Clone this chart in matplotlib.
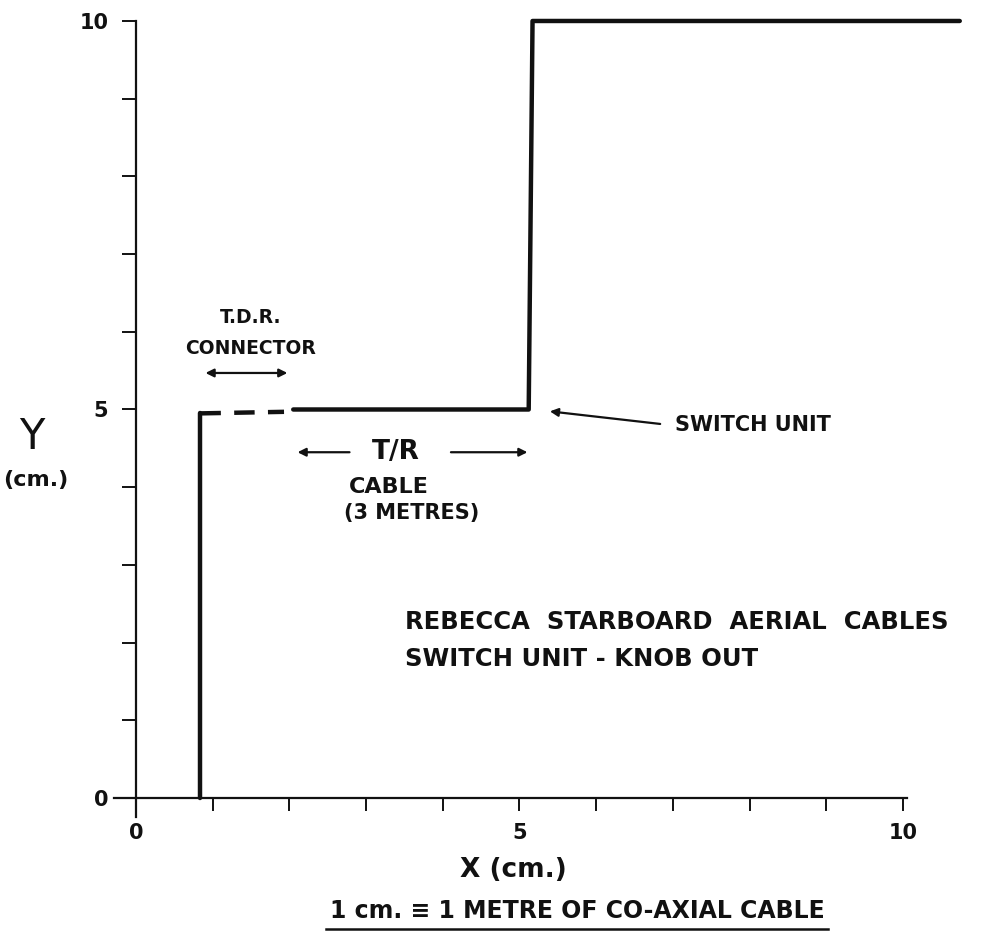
import matplotlib
matplotlib.use("Agg")
import matplotlib.pyplot as plt
from matplotlib.lines import Line2D

plt.rcParams['font.family'] = ['DejaVu Sans']

# step trace (cm)
rise_x = [0.84, 0.84]
rise_y = [0.0, 4.95]
connector_x = [0.84, 1.93]
connector_y = [4.95, 4.97]
cable_x = [2.05, 5.12, 5.17, 10.74]
cable_y = [5.0, 5.0, 10.0, 10.0]

# axes ticks
major_ticks = [0, 5, 10]
minor_ticks = [1, 2, 3, 4, 6, 7, 8, 9]
tick_labels = ['0', '5', '10']

# dimension arrows (x start, x end, y)
tdr_arrow = (0.87, 2.01, 5.47)
tr_left = (2.82, 2.07, 4.45)
tr_right = (4.07, 5.14, 4.45)
switch_from = (6.87, 4.81)
switch_to = (5.36, 4.98)

fig = plt.figure(figsize=(9.85, 9.35), dpi=100)
ax = fig.add_axes([0, 0, 1, 1])
ax.set_xlim(-1.773, 11.069)
ax.set_ylim(-1.763, 10.270)

ink = '#111111'
ax.plot(rise_x, rise_y, color=ink, lw=3.2, solid_joinstyle='round', solid_capstyle='round')
ax.plot(connector_x, connector_y, color=ink, lw=3.2, dashes=(4.6, 3.0), dash_capstyle='butt')
ax.plot(cable_x, cable_y, color=ink, lw=3.2, solid_joinstyle='round', solid_capstyle='round')

# axes look
for s in ['top', 'right']:
    ax.spines[s].set_visible(False)
ax.spines['left'].set_position(('data', 0))
ax.spines['bottom'].set_position(('data', 0))
ax.spines['left'].set_bounds(-0.25, 10)
ax.spines['bottom'].set_bounds(-0.29, 10.05)
for s in ['left', 'bottom']:
    ax.spines[s].set_linewidth(1.6)
    ax.spines[s].set_color(ink)

ax.set_xticks(major_ticks, labels=tick_labels)
ax.set_yticks(major_ticks, labels=tick_labels)
ax.set_xticks(minor_ticks, minor=True)
ax.set_yticks(minor_ticks, minor=True)
ax.tick_params(axis='x', which='both', direction='out', length=9, width=1.4, color=ink, pad=9)
ax.tick_params(axis='y', which='both', direction='out', length=10, width=1.4, color=ink, pad=10)
for lab in ax.get_xticklabels() + ax.get_yticklabels():
    lab.set_fontsize(15)
    lab.set_fontweight('bold')
    lab.set_color(ink)

# axis titles
ax.text(-1.356, 4.646, 'Y', fontsize=30, ha='center', va='center', color=ink)
ax.text(-1.304, 4.093, '(cm.)', fontsize=16, fontweight='bold', ha='center', va='center', color=ink)
ax.text(4.92, -0.927, 'X (cm.)', fontsize=19, fontweight='bold', ha='center', va='center', color=ink)

# annotations
ax.text(1.50, 6.18, 'T.D.R.', fontsize=13.5, fontweight='bold', ha='center', va='center', color=ink)
ax.text(1.50, 5.79, 'CONNECTOR', fontsize=13.5, fontweight='bold', ha='center', va='center', color=ink)
ax.annotate('', xy=(tdr_arrow[1], tdr_arrow[2]), xytext=(tdr_arrow[0], tdr_arrow[2]),
            arrowprops=dict(arrowstyle='<|-|>', color=ink, lw=1.6, mutation_scale=12))

ax.text(3.39, 4.45, 'T/R', fontsize=19, fontweight='bold', ha='center', va='center', color=ink)
for x0, x1, yy in [tr_left, tr_right]:
    ax.annotate('', xy=(x1, yy), xytext=(x0, yy),
                arrowprops=dict(arrowstyle='-|>', color=ink, lw=1.6, mutation_scale=12))
ax.text(3.29, 4.00, 'CABLE', fontsize=16, fontweight='bold', ha='center', va='center', color=ink)
ax.text(3.60, 3.67, '(3 METRES)', fontsize=15, fontweight='bold', ha='center', va='center', color=ink)

ax.text(7.03, 4.80, 'SWITCH UNIT', fontsize=15, fontweight='bold', ha='left', va='center', color=ink)
ax.annotate('', xy=switch_to, xytext=switch_from,
            arrowprops=dict(arrowstyle='-|>', color=ink, lw=1.6, mutation_scale=12))

ax.text(3.51, 2.27, 'REBECCA  STARBOARD  AERIAL  CABLES', fontsize=17.5, fontweight='bold',
        ha='left', va='center', color=ink)
ax.text(3.51, 1.79, 'SWITCH UNIT - KNOB OUT', fontsize=17.5, fontweight='bold',
        ha='left', va='center', color=ink)

note = ax.text(5.75, -1.454, '1 cm. \u2261 1 METRE OF CO-AXIAL CABLE', fontsize=17, fontweight='bold',
               ha='center', va='center', color=ink)

# underline the scale note from its rendered extent
fig.canvas.draw()
bb = note.get_window_extent().transformed(fig.transFigure.inverted())
fig.add_artist(Line2D([bb.x0 - 0.004, bb.x1 + 0.004], [bb.y0 - 0.006, bb.y0 - 0.006],
                      transform=fig.transFigure, color=ink, lw=1.8))

fig.savefig('out.png', dpi=100, facecolor='white')
